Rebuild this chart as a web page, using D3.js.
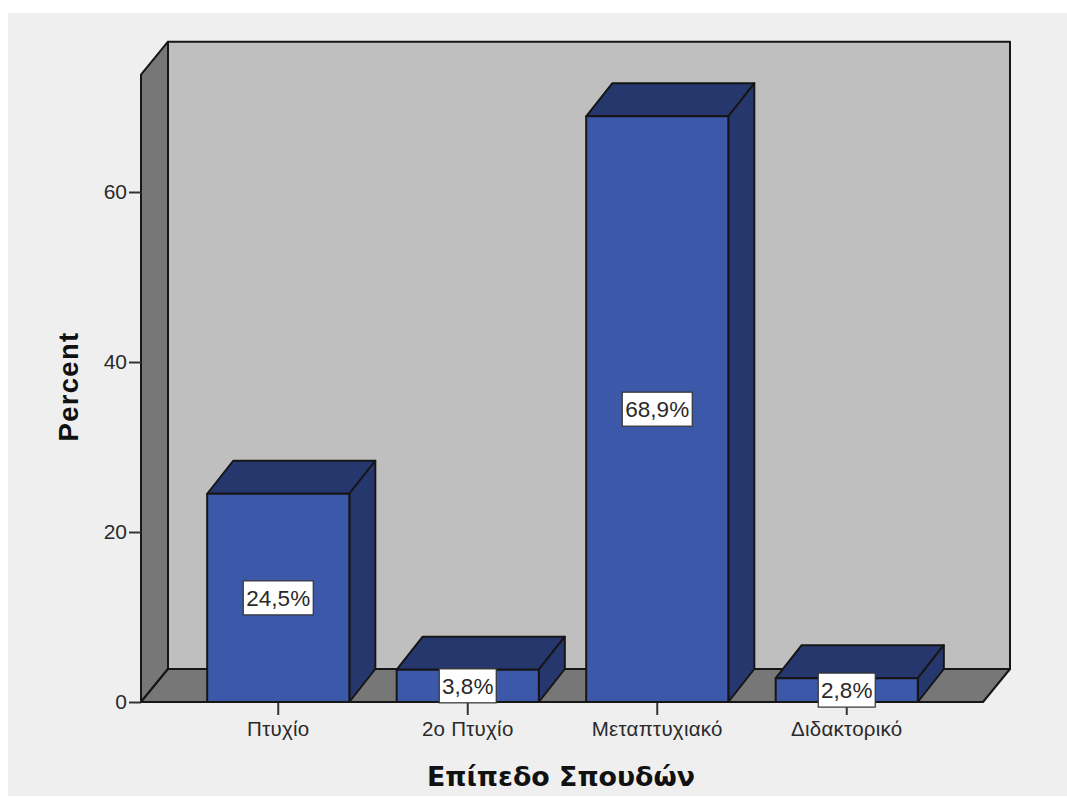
<!DOCTYPE html>
<html>
<head>
<meta charset="utf-8">
<script src="https://cdn.jsdelivr.net/npm/d3@7/dist/d3.min.js"></script>
<style>
html,body{margin:0;padding:0;background:#fff;}
svg{display:block;}
</style>
</head>
<body>
<svg id="chart" width="1067" height="798"></svg>
<script>
// Education level distribution, drawn as a 3D-style bar chart
const categories = ["Πτυχίο", "2ο Πτυχίο", "Μεταπτυχιακό", "Διδακτορικό"];
const percents = [24.5, 3.8, 68.9, 2.8];
const valueLabels = ["24,5%", "3,8%", "68,9%", "2,8%"];
const yTicks = [0, 20, 40, 60];
const xTitle = "Επίπεδο Σπουδών";
const yTitle = "Percent";

const svg = d3.select("#chart");
const font = "'Liberation Sans', Arial, sans-serif";
const ink = "#2a2a2a";

// Plot frame and the projection offset of the 3D box
const plotLeft = 141, plotRight = 983, baseY = 702, topValue = 73.8;
const wallDx = 27, wallDy = -33, barDx = 26, barDy = -33;

const x = d3.scaleBand().domain(categories).range([183.5, 941.5])
  .paddingInner(0.25).paddingOuter(0.125);
const y = d3.scaleLinear().domain([0, 60]).range([baseY, 192]);

const poly = (pts) => "M" + pts.map(p => p.join(",")).join("L") + "Z";
const stroke = "#161616";

svg.append("rect").attr("x", 8).attr("y", 13).attr("width", 1059).attr("height", 783).attr("fill", "#efefef");

// Back wall, side wall, floor
const wallTop = y(topValue);
const box = svg.append("g").attr("stroke", stroke).attr("stroke-width", 2).attr("stroke-linejoin", "round");
box.append("path").attr("fill", "#bfbfbf").attr("d", poly([
  [plotLeft + wallDx, wallTop + wallDy], [plotRight + wallDx, wallTop + wallDy],
  [plotRight + wallDx, baseY + wallDy], [plotLeft + wallDx, baseY + wallDy]]));
box.append("path").attr("fill", "#777777").attr("d", poly([
  [plotLeft, wallTop], [plotLeft + wallDx, wallTop + wallDy],
  [plotLeft + wallDx, baseY + wallDy], [plotLeft, baseY]]));
box.append("path").attr("fill", "#777777").attr("d", poly([
  [plotLeft, baseY], [plotLeft + wallDx, baseY + wallDy],
  [plotRight + wallDx, baseY + wallDy], [plotRight, baseY]]));

// Axes
const yAxis = svg.append("g").attr("transform", `translate(${plotLeft},0)`)
  .call(d3.axisLeft(y).tickValues(yTicks).tickSize(12).tickPadding(2));
const xAxis = svg.append("g").attr("transform", `translate(0,${baseY})`)
  .call(d3.axisBottom(x).tickSize(13).tickPadding(6));
[yAxis, xAxis].forEach(a => {
  a.select(".domain").remove();
  a.selectAll("line").attr("stroke", "#333").attr("stroke-width", 2);
  a.selectAll("text").attr("fill", ink).attr("font-family", font);
});
yAxis.selectAll("text").attr("font-size", 21);
xAxis.selectAll("text").attr("font-size", 20.5).attr("letter-spacing", 0.25);

// Bars
const bars = svg.append("g").attr("stroke", stroke).attr("stroke-width", 2).attr("stroke-linejoin", "round")
  .selectAll("g").data(categories).join("g");
const w = x.bandwidth();
const barTop = (i) => y(percents[i]);
bars.append("path").attr("fill", "#25376d").attr("d", (d, i) => {
  const x0 = x(d), t = barTop(i);
  return poly([[x0, t], [x0 + barDx, t + barDy], [x0 + w + barDx, t + barDy], [x0 + w, t]]);
});
bars.append("path").attr("fill", "#25376d").attr("d", (d, i) => {
  const x1 = x(d) + w, t = barTop(i);
  return poly([[x1, t], [x1 + barDx, t + barDy], [x1 + barDx, baseY + barDy], [x1, baseY]]);
});
bars.append("rect").attr("fill", "#3c58a8")
  .attr("x", d => x(d)).attr("width", w)
  .attr("y", (d, i) => barTop(i)).attr("height", (d, i) => baseY - barTop(i));

// Baseline across the front of the floor
svg.append("line").attr("x1", plotLeft).attr("x2", plotRight).attr("y1", baseY).attr("y2", baseY)
  .attr("stroke", stroke).attr("stroke-width", 2);

// Value labels, centred on each bar's front face
const labels = svg.append("g").selectAll("g").data(categories).join("g")
  .attr("transform", (d, i) => `translate(${x(d) + w / 2},${y(percents[i] / 2)})`);
labels.each(function (d, i) {
  const g = d3.select(this);
  const big = percents[i] > 10;
  const bw = big ? 70 : 57, bh = 34;
  g.append("rect").attr("x", -bw / 2).attr("y", -bh / 2).attr("width", bw).attr("height", bh)
    .attr("fill", "#fff").attr("stroke", "#333").attr("stroke-width", 1.2);
  g.append("text").attr("text-anchor", "middle").attr("dy", "0.36em")
    .attr("font-family", font).attr("font-size", 22.5).attr("fill", ink).text(valueLabels[i]);
});

// Axis titles
svg.append("text").attr("x", 561).attr("y", 786).attr("text-anchor", "middle")
  .attr("font-family", "'DejaVu Sans', Verdana, sans-serif").attr("font-weight", "bold")
  .attr("font-size", 26.8).attr("fill", "#111").text(xTitle);
svg.append("text").attr("transform", "translate(78,386.5) rotate(-90)").attr("text-anchor", "middle")
  .attr("font-family", font).attr("font-weight", "bold")
  .attr("font-size", 27.5).attr("letter-spacing", 1.3).attr("fill", "#111").text(yTitle);
</script>
</body>
</html>
